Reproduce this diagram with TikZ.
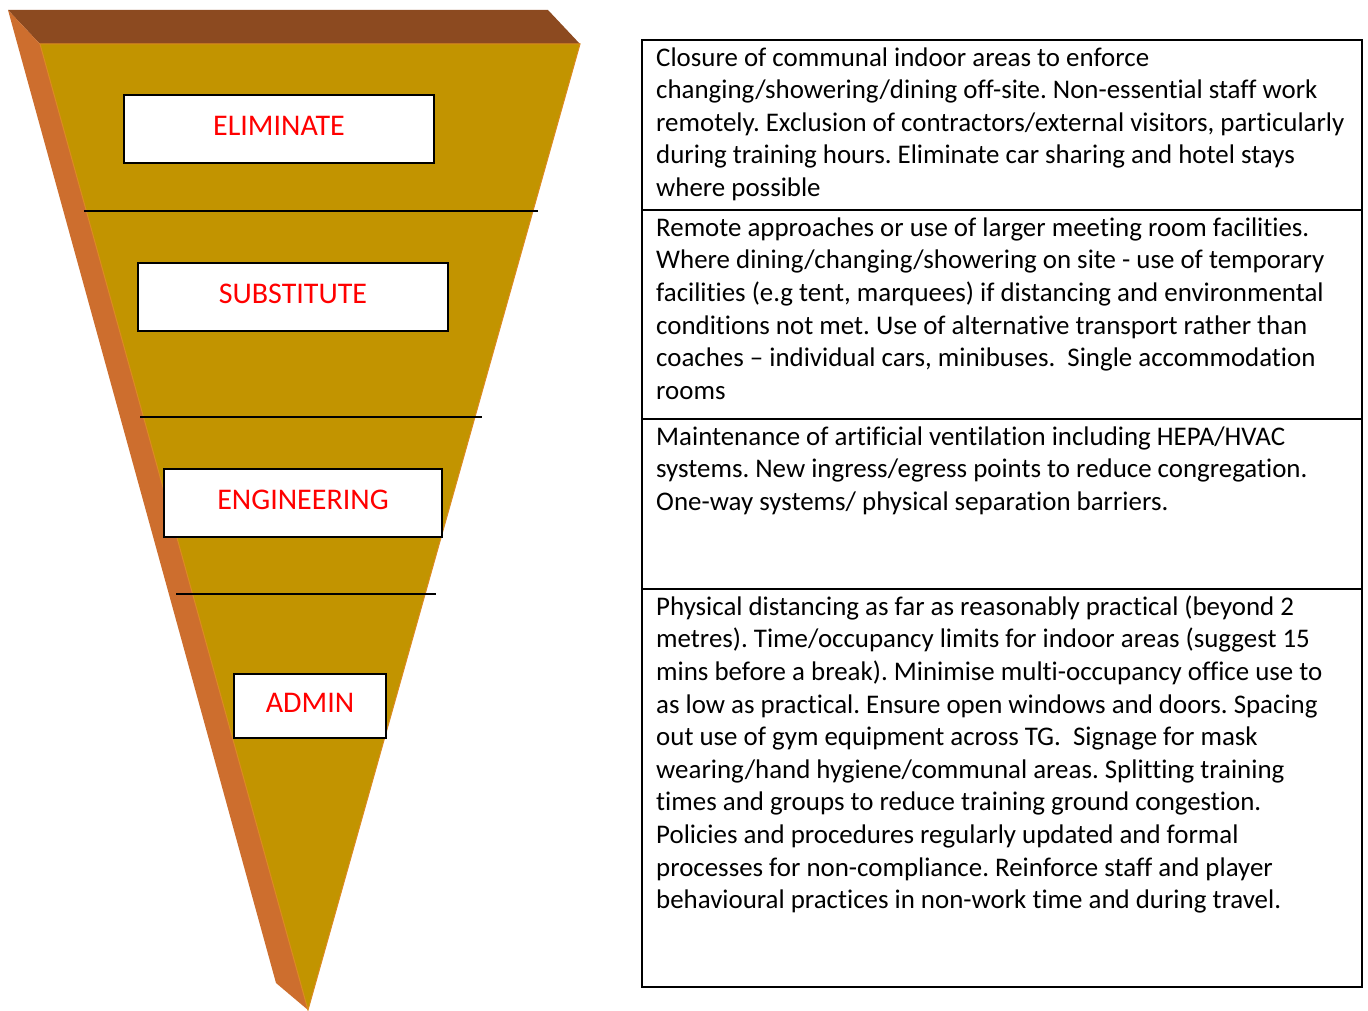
\documentclass[tikz,border=0pt]{standalone}
\usepackage{fontspec}
\setmainfont[Ligatures={NoCommon}]{Carlito}
\definecolor{topface}{HTML}{8C4A20}
\definecolor{sideface}{HTML}{CD6E2E}
\definecolor{frontface}{HTML}{C29400}
\definecolor{faceedge}{HTML}{DC8A22}
\definecolor{labelred}{HTML}{FF0000}
\tikzset{
  level/.style={draw=black, line width=1.6pt, fill=white, inner sep=0pt,
    font=\fontsize{30}{34}\selectfont, text=labelred},
  divider/.style={draw=black, line width=1.6pt},
  cell/.style={anchor=north west, inner sep=0pt, align=left,
    font=\fontsize{26.9}{32.6}\selectfont},
  grid/.style={draw=black, line width=1.6pt}
}
\newcommand{\lvltext}[1]{\raisebox{6pt}{#1}}
\begin{document}
\frenchspacing
\begin{tikzpicture}[x=1pt, y=-1pt]
\useasboundingbox (0,0) rectangle (1368,1011);

% inverted pyramid: top face, left side, front face
\fill[topface] (8,10) -- (548,10) -- (580,44) -- (40,44) -- cycle;
\fill[sideface] (8,10) -- (40,44) -- (308,1010) -- (276,983) -- cycle;
\filldraw[fill=frontface, draw=faceedge, line width=1pt] (40,44) -- (580,44) -- (308,1010) -- cycle;

% level dividers
\coordinate (d1a) at (84,211);  \coordinate (d1b) at (538,211);
\coordinate (d2a) at (140,417); \coordinate (d2b) at (482,417);
\coordinate (d3a) at (176,594); \coordinate (d3b) at (436,594);
\draw[divider] (d1a) -- (d1b);
\draw[divider] (d2a) -- (d2b);
\draw[divider] (d3a) -- (d3b);

% level labels
\node[level, minimum width=310pt, minimum height=68pt] (elim) at (279,129) {\lvltext{ELIMINATE}};
\node[level, minimum width=310pt, minimum height=68pt] (subs) at (293,297) {\lvltext{SUBSTITUTE}};
\node[level, minimum width=278pt, minimum height=68pt] (engi) at (303,503) {\lvltext{ENGINEERING}};
\node[level, minimum width=152pt, minimum height=64pt] (admin) at (310,706) {\lvltext{ADMIN}};

% measures table
\coordinate (tl) at (642,40);
\coordinate (br) at (1362,987);
\draw[grid] (tl) rectangle (br);
\coordinate (s1a) at (642,210); \coordinate (s1b) at (1362,210);
\coordinate (s2a) at (642,419); \coordinate (s2b) at (1362,419);
\coordinate (s3a) at (642,589); \coordinate (s3b) at (1362,589);
\draw[grid] (s1a) -- (s1b);
\draw[grid] (s2a) -- (s2b);
\draw[grid] (s3a) -- (s3b);

\node[cell] (r1) at (656,46) {\rule{0pt}{20pt}Closure of communal indoor areas to enforce\\
changing/showering/dining off-site. Non-essential staff work\\
remotely. Exclusion of contractors/external visitors, particularly\\
during training hours. Eliminate car sharing and hotel stays\\
where possible};

\node[cell] (r2) at (656,216) {\rule{0pt}{20pt}Remote approaches or use of larger meeting room facilities.\\
Where dining/changing/showering on site - use of temporary\\
facilities (e.g tent, marquees) if distancing and environmental\\
conditions not met. Use of alternative transport rather than\\
coaches – individual cars, minibuses.\ \ Single accommodation\\
rooms};

\node[cell] (r3) at (656,425) {\rule{0pt}{20pt}Maintenance of artificial ventilation including HEPA/HVAC\\
systems. New ingress/egress points to reduce congregation.\\
One-way systems/ physical separation barriers.};

\node[cell] (r4) at (656,595) {\rule{0pt}{20pt}Physical distancing as far as reasonably practical (beyond 2\\
metres). Time/occupancy limits for indoor areas (suggest 15\\
mins before a break). Minimise multi-occupancy office use to\\
as low as practical. Ensure open windows and doors. Spacing\\
out use of gym equipment across TG.\ \ Signage for mask\\
wearing/hand hygiene/communal areas. Splitting training\\
times and groups to reduce training ground congestion.\\
Policies and procedures regularly updated and formal\\
processes for non-compliance. Reinforce staff and player\\
behavioural practices in non-work time and during travel.};
\end{tikzpicture}
\end{document}
